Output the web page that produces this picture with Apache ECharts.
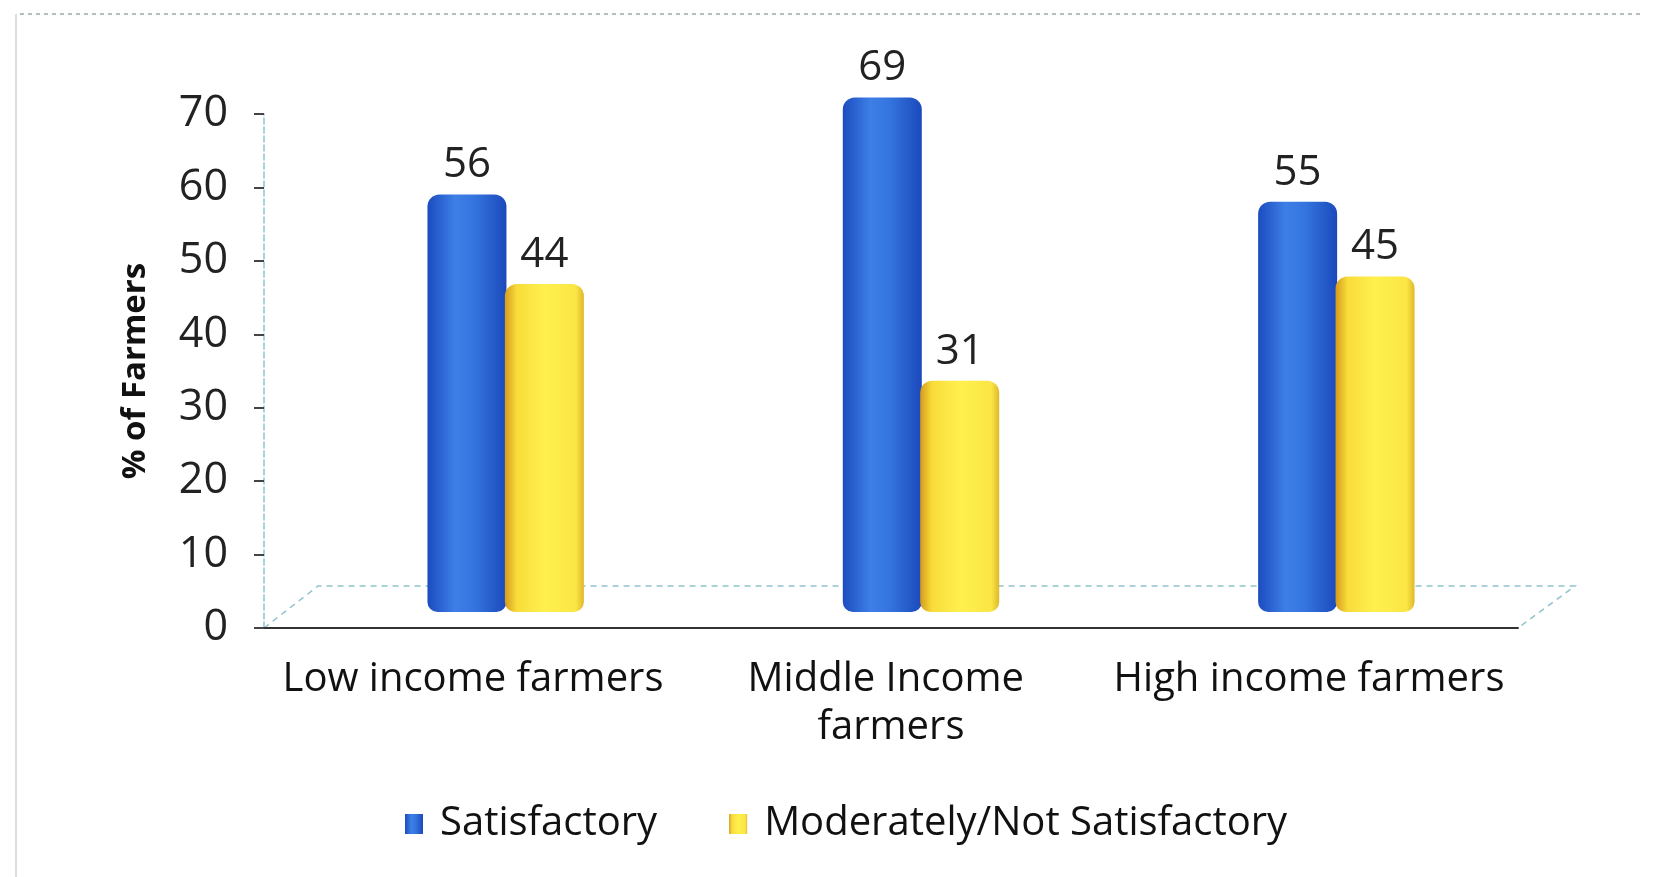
<!DOCTYPE html>
<html><head><meta charset="utf-8">
<script src="https://cdn.jsdelivr.net/npm/echarts@6/dist/echarts.min.js"></script>
<style>html,body{margin:0;padding:0;background:#fff}#c{width:1659px;height:877px}</style>
</head><body><div id="c"></div>
<script>
const categories = ['Low income farmers', 'Middle Income farmers', 'High income farmers'];
const satisfactory = [56, 69, 55];
const notSatisfactory = [44, 31, 45];
const yTicks = [0, 10, 20, 30, 40, 50, 60, 70];
const seriesNames = ['Satisfactory', 'Moderately/Not Satisfactory'];

const FONT = '"Open Sans", "Noto Sans", sans-serif';
const chart = echarts.init(document.getElementById('c'));

const blueGrad = new echarts.graphic.LinearGradient(0, 0, 1, 0, [
  {offset: 0, color: '#1c4cc0'}, {offset: 0.35, color: '#3d7fe6'},
  {offset: 0.6, color: '#3474df'}, {offset: 1, color: '#1b49bb'}]);
const yellowGrad = new echarts.graphic.LinearGradient(0, 0, 1, 0, [
  {offset: 0, color: '#d69a1e'}, {offset: 0.15, color: '#f8dc3a'},
  {offset: 0.5, color: '#fff04e'}, {offset: 0.9, color: '#fae645'}, {offset: 1, color: '#e0b82a'}]);

const labelStyle = {show: true, position: 'top', distance: 8, color: '#222', fontSize: 42, fontFamily: FONT};

chart.setOption({
  animation: false,
  backgroundColor: '#fff',
  textStyle: {fontFamily: FONT},
  legend: {
    bottom: 28, left: 400, itemWidth: 18, itemHeight: 20, itemGap: 72,
    icon: 'rect',
    textStyle: {fontSize: 40, color: '#111', fontFamily: FONT, padding: [0, 0, 0, 12]},
    data: seriesNames
  },
  grid: [
    {left: 264, right: 141, top: 114, bottom: 249, containLabel: false},
    {left: 298, right: 115, top: 90, bottom: 265, containLabel: false}
  ],
  xAxis: [
    {type: 'category', gridIndex: 0, data: categories,
     axisLine: {lineStyle: {color: '#333', width: 2}}, axisTick: {show: false},
     axisLabel: {interval: 0, fontSize: 40, color: '#111', margin: 28, width: 420, overflow: 'break', lineHeight: 48, fontFamily: FONT}},
    {type: 'category', gridIndex: 1, data: categories, show: false}
  ],
  yAxis: [
    {type: 'value', gridIndex: 0, min: 0, max: 70, interval: 10,
     name: '% of Farmers', nameLocation: 'middle', nameGap: 112,
     nameTextStyle: {fontSize: 33, fontWeight: 'bold', color: '#111', fontFamily: FONT},
     axisLine: {show: true, lineStyle: {color: '#8fc3cc', type: 'dashed', width: 1.5}},
     axisTick: {show: true, inside: false, length: 10, lineStyle: {color: '#444', width: 2}},
     splitLine: {show: false},
     axisLabel: {fontSize: 43, color: '#222', margin: 36, fontFamily: FONT,
       formatter: v => yTicks.includes(v) ? String(v) : ''}},
    {type: 'value', gridIndex: 1, min: 0, max: 70, show: false}
  ],
  graphic: [
    {type: 'polyline', shape: {points: [[264, 628], [318, 586], [1575, 586], [1518, 628]]},
     style: {stroke: '#8fc3cc', lineWidth: 1.5, lineDash: [6, 5], fill: null}, z: 0},
    {type: 'line', shape: {x1: 20, y1: 14, x2: 1640, y2: 14},
     style: {stroke: '#9aa', lineWidth: 1.5, lineDash: [4, 4]}},
    {type: 'line', shape: {x1: 16, y1: 14, x2: 16, y2: 877},
     style: {stroke: '#bbb', lineWidth: 1}}
  ],
  series: [
    {name: seriesNames[0], type: 'bar', xAxisIndex: 1, yAxisIndex: 1, data: satisfactory,
     barWidth: 79, barGap: '-2%',
     itemStyle: {color: blueGrad, borderRadius: [12, 12, 10, 10]},
     label: labelStyle},
    {name: seriesNames[1], type: 'bar', xAxisIndex: 1, yAxisIndex: 1, data: notSatisfactory,
     barWidth: 79,
     itemStyle: {color: yellowGrad, borderRadius: [12, 12, 10, 10]},
     label: labelStyle}
  ]
});
</script></body></html>
